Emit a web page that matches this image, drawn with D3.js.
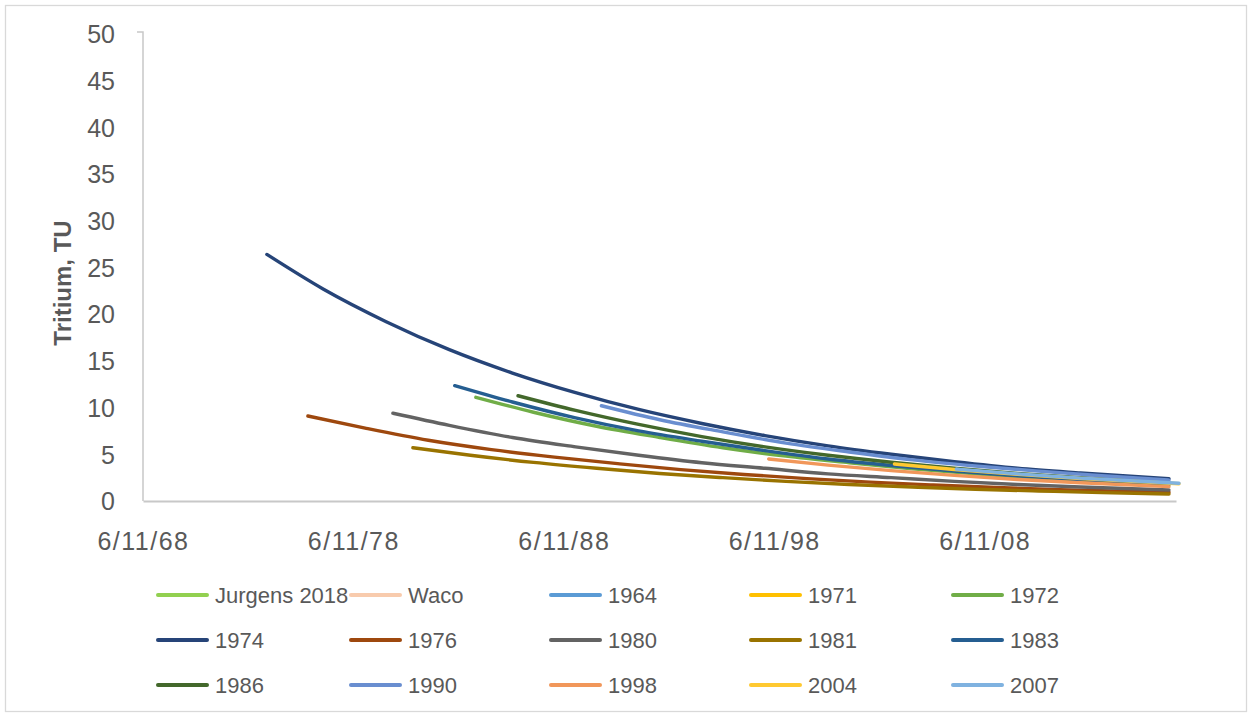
<!DOCTYPE html>
<html>
<head>
<meta charset="utf-8">
<script src="https://cdn.jsdelivr.net/npm/d3@7"></script>
<style>
  body { margin: 0; background: #fff; }
  svg text { font-family: "Liberation Sans", Arial, sans-serif; fill: #595959; }
</style>
</head>
<body>
<div id="chart"></div>
<script>
// series names in legend order, and their colours
var names = ["Jurgens 2018", "Waco", "1964", "1971", "1972", "1974", "1976", "1980",
             "1981", "1983", "1986", "1990", "1998", "2004", "2007"];
var colors = ["#92D050", "#F8CBAD", "#5B9BD5", "#FFC000", "#70AD47", "#264478", "#9E480E", "#636363",
              "#997300", "#255E91", "#43682B", "#698ED0", "#F1975A", "#FFC931", "#7FB2E0"];

// [date, TU]
var sJurgens = [];
var sWaco = [];
var s1964 = [];
var s1971 = [];
var s1972 = [["1984-04-05", 11.1], ["1987-01-01", 9.5], ["1990-01-01", 8.0], ["1993-01-01", 6.8],
             ["1996-01-01", 5.7], ["1999-01-01", 4.8], ["2002-01-01", 4.1], ["2005-01-01", 3.45],
             ["2008-01-01", 2.9], ["2011-01-01", 2.46], ["2014-01-01", 2.08], ["2017-03-15", 1.74]];
var s1974 = [["1974-05-01", 26.4], ["1977-01-01", 22.7], ["1980-01-01", 19.2], ["1983-01-01", 16.2],
             ["1986-01-01", 13.7], ["1989-01-01", 11.6], ["1992-01-01", 9.8], ["1995-01-01", 8.3],
             ["1998-01-01", 7.0], ["2001-01-01", 5.9], ["2004-01-01", 5.0], ["2007-01-01", 4.2],
             ["2010-01-01", 3.5], ["2013-01-01", 3.0], ["2017-03-15", 2.4]];
var s1976 = [["1976-04-12", 9.1], ["1979-01-01", 7.8], ["1982-01-01", 6.5], ["1985-01-01", 5.5],
             ["1988-01-01", 4.7], ["1991-01-01", 4.0], ["1994-01-01", 3.36], ["1997-01-01", 2.84],
             ["2000-01-01", 2.4], ["2003-01-01", 2.02], ["2006-01-01", 1.71], ["2009-01-01", 1.44],
             ["2012-01-01", 1.22], ["2017-03-15", 0.95]];
var s1980 = [["1980-04-27", 9.4], ["1983-01-01", 8.1], ["1986-01-01", 6.8], ["1989-01-01", 5.8],
             ["1992-01-01", 4.9], ["1995-01-01", 4.1], ["1998-01-01", 3.5], ["2001-01-01", 2.9],
             ["2004-01-01", 2.5], ["2007-01-01", 2.1], ["2010-01-01", 1.77], ["2013-01-01", 1.5],
             ["2017-03-15", 1.18]];
var s1981 = [["1981-04-09", 5.7], ["1984-01-01", 4.9], ["1987-01-01", 4.13], ["1990-01-01", 3.5],
             ["1993-01-01", 2.95], ["1996-01-01", 2.5], ["1999-01-01", 2.1], ["2002-01-01", 1.77],
             ["2005-01-01", 1.5], ["2008-01-01", 1.26], ["2011-01-01", 1.07], ["2014-01-01", 0.9],
             ["2017-03-15", 0.75]];
var s1983 = [["1983-04-05", 12.35], ["1986-01-01", 10.6], ["1989-01-01", 8.9], ["1992-01-01", 7.5],
             ["1995-01-01", 6.4], ["1998-01-01", 5.4], ["2001-01-01", 4.5], ["2004-01-01", 3.8],
             ["2007-01-01", 3.2], ["2010-01-01", 2.7], ["2013-01-01", 2.3], ["2017-03-15", 1.83]];
var s1986 = [["1986-04-08", 11.27], ["1989-01-01", 9.7], ["1992-01-01", 8.2], ["1995-01-01", 6.9],
             ["1998-01-01", 5.8], ["2001-01-01", 4.9], ["2004-01-01", 4.15], ["2007-01-01", 3.5],
             ["2010-01-01", 2.96], ["2013-01-01", 2.5], ["2017-03-15", 1.98]];
var s1990 = [["1990-03-25", 10.2], ["1993-01-01", 8.7], ["1996-01-01", 7.4], ["1999-01-01", 6.2],
             ["2002-01-01", 5.25], ["2005-01-01", 4.4], ["2008-01-01", 3.75], ["2011-01-01", 3.2],
             ["2014-01-01", 2.7], ["2017-03-15", 2.24]];
var s1998 = [["1998-03-07", 4.5], ["2001-01-01", 3.84], ["2004-01-01", 3.25], ["2007-01-01", 2.74],
             ["2010-01-01", 2.3], ["2013-01-01", 1.95], ["2017-03-15", 1.54]];
var s2004 = [["2004-02-27", 3.96], ["2007-01-01", 3.37], ["2010-01-01", 2.85], ["2013-01-01", 2.41],
             ["2017-09-05", 1.85]];
var s2007 = [["2007-02-06", 3.42], ["2010-01-01", 2.9], ["2013-01-01", 2.45], ["2017-09-05", 1.9]];

var seriesData = [sJurgens, sWaco, s1964, s1971, s1972, s1974, s1976, s1980,
                  s1981, s1983, s1986, s1990, s1998, s2004, s2007];

var xTickDates = ["1968-06-11", "1978-06-11", "1988-06-11", "1998-06-11", "2008-06-11"];
var xTickLabels = ["6/11/68", "6/11/78", "6/11/88", "6/11/98", "6/11/08"];
var yTicks = [0, 5, 10, 15, 20, 25, 30, 35, 40, 45, 50];

var width = 1252, height = 717;
var parse = d3.timeParse("%Y-%m-%d");

var svg = d3.select("#chart").append("svg")
  .attr("width", width)
  .attr("height", height);

// chart border
svg.append("rect")
  .attr("x", 5.5).attr("y", 5.5)
  .attr("width", 1241).attr("height", 706)
  .attr("fill", "#fff")
  .attr("stroke", "#d9d9d9")
  .attr("stroke-width", 1.3);

var x = d3.scaleTime()
  .domain([parse("1968-06-11"), parse("2017-07-15")])
  .range([143, 1176]);
var y = d3.scaleLinear().domain([0, 50]).range([501, 34]);

// y axis
var yAxis = svg.append("g")
  .attr("transform", "translate(143,0)")
  .call(d3.axisLeft(y).tickValues(yTicks).tickSize(0).tickPadding(28));
yAxis.select(".domain").remove();
yAxis.selectAll("text")
  .style("font-size", "25px")
  .attr("dy", "0.35em");
svg.append("path")
  .attr("d", "M137," + (y(50) - 2) + "H143V" + y(0))
  .attr("fill", "none")
  .attr("stroke", "#c8c8c8")
  .attr("stroke-width", 1.5);

// x axis
var xAxis = svg.append("g")
  .attr("transform", "translate(0,501)")
  .call(d3.axisBottom(x)
    .tickValues(xTickDates.map(parse))
    .tickFormat(function(d, i) { return xTickLabels[i]; })
    .tickSize(0).tickPadding(31));
xAxis.select(".domain")
  .attr("stroke", "#c8c8c8")
  .attr("stroke-width", 2);
xAxis.selectAll("text")
  .style("font-size", "25px")
  .style("letter-spacing", "1.5px");

// axis title
svg.append("text")
  .attr("transform", "translate(71,283) rotate(-90)")
  .attr("text-anchor", "middle")
  .style("font-size", "24px")
  .style("font-weight", "bold")
  .text("Tritium, TU");

var line = d3.line()
  .x(function(d) { return x(parse(d[0])); })
  .y(function(d) { return y(d[1]); })
  .curve(d3.curveMonotoneX);

seriesData.forEach(function(s, i) {
  if (s.length == 0) return;
  svg.append("path")
    .datum(s)
    .attr("d", line)
    .attr("fill", "none")
    .attr("stroke", colors[i])
    .attr("stroke-width", 3.4)
    .attr("stroke-linecap", "round")
    .attr("stroke-linejoin", "round");
});

// legend, 5 per row; text column positions as in the picture
var legendTextX = [215, 408, 608, 808, 1010];
var legend = svg.selectAll(".leg")
  .data(names)
  .enter().append("g")
  .attr("class", "leg")
  .attr("transform", function(d, i) {
    return "translate(" + legendTextX[i % 5] + "," + (595 + Math.floor(i / 5) * 45) + ")";
  });
legend.append("line")
  .attr("x1", -57).attr("x2", -8)
  .attr("stroke", function(d, i) { return colors[i]; })
  .attr("stroke-width", 4)
  .attr("stroke-linecap", "round");
legend.append("text")
  .attr("x", 0)
  .attr("dy", "0.35em")
  .style("font-size", "22px")
  .text(function(d) { return d; });
</script>
</body>
</html>
